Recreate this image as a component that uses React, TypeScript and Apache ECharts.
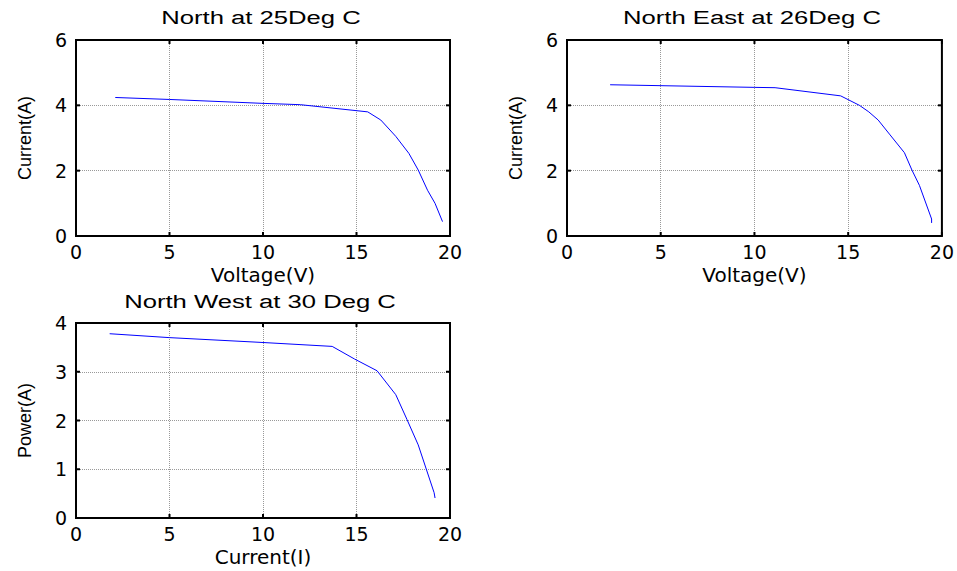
import React, { useEffect, useRef } from "react";
import * as echarts from "echarts";

// ---- data ----
const northVoltage = [2.1, 5, 10, 12, 15.6, 16.3, 17.1, 17.8, 18.3, 18.8, 19.2, 19.6];
const northCurrent = [4.24, 4.18, 4.06, 4.02, 3.8, 3.55, 3.05, 2.53, 2.02, 1.4, 1.0, 0.44];

const northEastVoltage = [2.3, 10, 11.1, 14.6, 15.6, 16.1, 16.6, 17.2, 18.0, 18.4, 18.8, 19.45, 19.45];
const northEastCurrent = [4.63, 4.55, 4.54, 4.29, 4.0, 3.8, 3.55, 3.12, 2.55, 2.02, 1.55, 0.52, 0.4];

const northWestCurrent = [1.8, 5, 10, 13.7, 14.9, 16.1, 17.1, 17.7, 18.3, 19.15, 19.2];
const northWestPower = [3.78, 3.7, 3.6, 3.52, 3.26, 3.02, 2.53, 2.02, 1.5, 0.52, 0.41];

const panelTitles = ["North at 25Deg C", "North East at 26Deg C", "North West at 30 Deg C"];
const xAxisNames = ["Voltage(V)", "Voltage(V)", "Current(I)"];
const yAxisNames = ["Current(A)", "Current(A)", "Power(A)"];
const xTicks = [0, 5, 10, 15, 20];
const yTicksByPanel = [
  [0, 2, 4, 6],
  [0, 2, 4, 6],
  [0, 1, 2, 3, 4],
];
const panelX = [northVoltage, northEastVoltage, northWestCurrent];
const panelY = [northCurrent, northEastCurrent, northWestPower];

// ---- layout ----
const grids = [
  { left: 76, top: 40, width: 374, height: 196 },
  { left: 567, top: 40, width: 376, height: 196 },
  { left: 76, top: 323, width: 374, height: 195 },
];
const titlePos = [
  [261, 18],
  [752, 18],
  [260, 302],
];

const TICK_FONT = "DejaVu Sans";
const TICK_LEN = 4;

export default function App() {
  const ref = useRef<HTMLDivElement>(null);

  useEffect(() => {
    if (!ref.current) return;
    const chart = echarts.init(ref.current, null, { renderer: "svg" });

    const xAxes: any[] = [];
    const yAxes: any[] = [];
    const series: any[] = [];

    grids.forEach((_, i) => {
      const xMin = xTicks[0];
      const xMax = xTicks[xTicks.length - 1];
      const yTicks = yTicksByPanel[i];
      const yMin = yTicks[0];
      const yMax = yTicks[yTicks.length - 1];

      xAxes.push({
        type: "value",
        gridIndex: i,
        position: "bottom",
        min: xMin,
        max: xMax,
        interval: xTicks[1] - xTicks[0],
        name: xAxisNames[i],
        nameLocation: "middle",
        nameGap: 29,
        nameTextStyle: { fontFamily: TICK_FONT, fontSize: 20, color: "#000" },
        axisLine: { show: false },
        axisTick: { show: false },
        splitLine: {
          show: true,
          showMinLine: false,
          showMaxLine: false,
          lineStyle: { color: "#999999", width: 1, type: "dotted" },
        },
        axisLabel: { fontFamily: TICK_FONT, fontSize: 19, color: "#000", margin: 6 },
      });
      yAxes.push({
        type: "value",
        gridIndex: i,
        position: "left",
        min: yMin,
        max: yMax,
        interval: yTicks[1] - yTicks[0],
        name: yAxisNames[i],
        nameLocation: "middle",
        nameGap: 42,
        nameTextStyle: { fontFamily: "Liberation Sans", fontSize: 18, color: "#000" },
        axisLine: { show: false },
        axisTick: { show: false },
        splitLine: {
          show: true,
          showMinLine: false,
          showMaxLine: false,
          lineStyle: { color: "#999999", width: 1, type: "dotted" },
        },
        axisLabel: { fontFamily: TICK_FONT, fontSize: 19, color: "#000", margin: 9 },
      });

      // MATLAB-style box with inward ticks, placed through the axes' own scales
      series.push({
        type: "custom",
        xAxisIndex: i,
        yAxisIndex: i,
        silent: true,
        clip: false,
        z: 10,
        data: [[xMin, yMin]],
        renderItem: (_params: any, api: any) => {
          const p0 = api.coord([xMin, yMin]);
          const p1 = api.coord([xMax, yMax]);
          const stroke = { stroke: "#000", lineWidth: 2, fill: "none" };
          const children: any[] = [
            {
              type: "rect",
              shape: { x: p0[0], y: p1[1], width: p1[0] - p0[0], height: p0[1] - p1[1] },
              style: { ...stroke },
            },
          ];
          xTicks.forEach((v) => {
            const px = api.coord([v, yMin])[0];
            children.push({
              type: "line",
              shape: { x1: px, y1: p0[1], x2: px, y2: p0[1] - TICK_LEN },
              style: { stroke: "#000", lineWidth: 2 },
            });
            children.push({
              type: "line",
              shape: { x1: px, y1: p1[1], x2: px, y2: p1[1] + TICK_LEN },
              style: { stroke: "#000", lineWidth: 2 },
            });
          });
          yTicks.forEach((v) => {
            const py = api.coord([xMin, v])[1];
            children.push({
              type: "line",
              shape: { x1: p0[0], y1: py, x2: p0[0] + TICK_LEN, y2: py },
              style: { stroke: "#000", lineWidth: 2 },
            });
            children.push({
              type: "line",
              shape: { x1: p1[0], y1: py, x2: p1[0] - TICK_LEN, y2: py },
              style: { stroke: "#000", lineWidth: 2 },
            });
          });
          return { type: "group", children };
        },
      });

      series.push({
        type: "line",
        xAxisIndex: i,
        yAxisIndex: i,
        data: panelX[i].map((v, k) => [v, panelY[i][k]]),
        showSymbol: false,
        lineStyle: { color: "#0000ff", width: 1 },
        z: 5,
      });
    });

    chart.setOption({
      animation: false,
      backgroundColor: "#fff",
      grid: grids.map((g) => ({ ...g, show: false })),
      xAxis: xAxes,
      yAxis: yAxes,
      series,
      graphic: panelTitles.map((t, i) => ({
        type: "text",
        x: titlePos[i][0],
        y: titlePos[i][1],
        scaleX: 1.35,
        style: {
          text: t,
          fontFamily: "Liberation Sans",
          fontSize: 19,
          fill: "#000",
          align: "center",
          verticalAlign: "middle",
        },
      })),
    });

    return () => chart.dispose();
  }, []);

  return <div ref={ref} style={{ position: "fixed", left: 0, top: 0, width: 957, height: 571 }} />;
}
